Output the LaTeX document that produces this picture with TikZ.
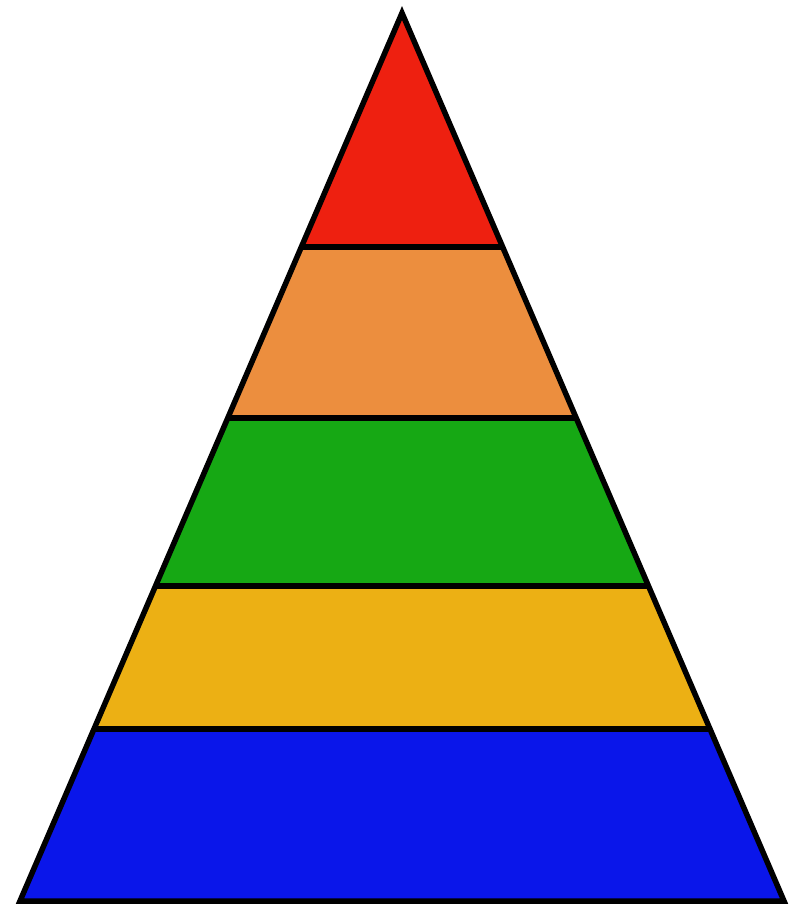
\documentclass[tikz,border=0pt]{standalone}
\usetikzlibrary{calc}
\definecolor{topred}{HTML}{EE2010}
\definecolor{peach}{HTML}{EC8E3E}
\definecolor{leaf}{HTML}{16A814}
\definecolor{gold}{HTML}{ECB014}
\definecolor{deepblue}{HTML}{0A16EA}
\tikzset{band/.style={draw=black,line width=5.5pt,line join=miter}}
\begin{document}
\begin{tikzpicture}[x=1pt,y=-1pt]
\useasboundingbox (0,0) rectangle (798,906);
\coordinate (apex) at (402,13);
\coordinate (bl) at (20,901);
\coordinate (br) at (784,901);
% band edges on both sides
\foreach \n/\y in {a/247,b/418,c/586,d/729}
 {\coordinate (l\n) at (intersection of apex--bl and 0,\y--1,\y);
  \coordinate (r\n) at (intersection of apex--br and 0,\y--1,\y);}
\fill[topred] (apex) -- (ra) -- (la) -- cycle;
\fill[peach] (la) -- (ra) -- (rb) -- (lb) -- cycle;
\fill[leaf] (lb) -- (rb) -- (rc) -- (lc) -- cycle;
\fill[gold] (lc) -- (rc) -- (rd) -- (ld) -- cycle;
\fill[deepblue] (ld) -- (rd) -- (br) -- (bl) -- cycle;
\foreach \n in {a,b,c,d}
 {\draw[band] (l\n) -- (r\n);}
\draw[band] (apex) -- (br) -- (bl) -- cycle;
\end{tikzpicture}
\end{document}
